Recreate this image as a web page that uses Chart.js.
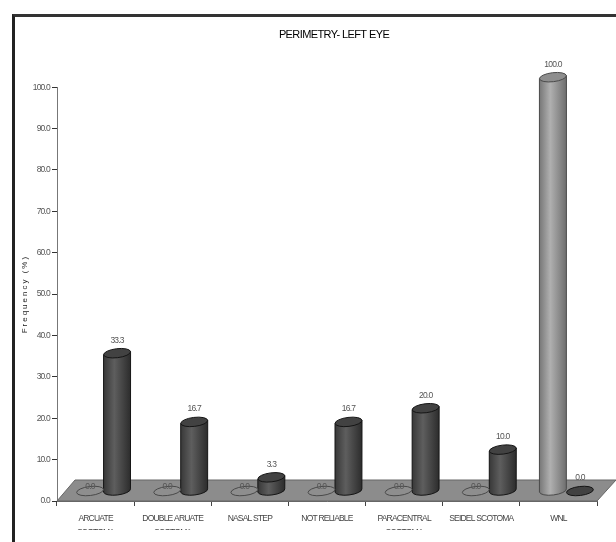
<!DOCTYPE html>
<html>
<head>
<meta charset="utf-8">
<title>Perimetry - left eye</title>
<script src="https://cdn.jsdelivr.net/npm/chart.js@4"></script>
<style>
  html, body { margin: 0; padding: 0; background: #fff; }
  #frame { position: absolute; left: 12px; top: 14px; width: 604px; height: 528px; box-sizing: border-box; border-left: 3px solid #222; border-top: 3px solid #333; }
  #chart { position: absolute; left: 0; top: 0; }
</style>
</head>
<body>
<div id="frame"></div>
<canvas id="chart" width="616" height="530"></canvas>
<script>
const categories = [
  ['ARCUATE', 'SCOTOMA'],
  ['DOUBLE ARUATE', 'SCOTOMA'],
  'NASAL STEP',
  'NOT RELIABLE',
  ['PARACENTRAL', 'SCOTOMA'],
  'SEIDEL SCOTOMA',
  'WNL'
];
const greyValues = [0, 0, 0, 0, 0, 0, 100];
const darkValues = [33.3, 16.7, 3.3, 16.7, 20, 10, 0];

const FONT = '"Liberation Sans", sans-serif';
const DEPTH_X = 8, DEPTH_Y = 10;
const TIGHT = '-0.8px';

const palettes = [
  { edge: '#4a4a4a', stops: ['#777777', '#b0b0b0', '#6e6e6e'], top: '#8e8e8e' },
  { edge: '#151515', stops: ['#383838', '#5e5e5e', '#2c2c2c'], top: '#424242' }
];

function cylinder(ctx, x, top, bottom, w, pal) {
  const left = x - w / 2, right = x + w / 2, ry = 4.5, tilt = -0.12;
  const rise = Math.sin(-tilt) * w / 2;
  ctx.lineWidth = 1;
  ctx.strokeStyle = pal.edge;
  if (bottom - top > 0.5) {
    const g = ctx.createLinearGradient(left, 0, right, 0);
    g.addColorStop(0, pal.stops[0]);
    g.addColorStop(0.4, pal.stops[1]);
    g.addColorStop(1, pal.stops[2]);
    ctx.beginPath();
    ctx.moveTo(left, top + rise);
    ctx.lineTo(left, bottom + rise);
    ctx.ellipse(x, bottom, w / 2, ry, tilt, Math.PI, 0, true);
    ctx.lineTo(right, top - rise);
    ctx.closePath();
    ctx.fillStyle = g;
    ctx.fill();
    ctx.stroke();
  }
  ctx.beginPath();
  ctx.ellipse(x, top, w / 2, ry, tilt, 0, Math.PI * 2);
  ctx.fillStyle = pal.top;
  ctx.fill();
  ctx.stroke();
}

// run a chart element's draw step with its own letter spacing
function spaced(chart, owner, method, spacing) {
  const original = owner[method];
  owner[method] = function (...args) {
    chart.ctx.save();
    chart.ctx.letterSpacing = spacing;
    original.apply(owner, args);
    chart.ctx.restore();
  };
}

const floorPlugin = {
  id: 'floor',
  beforeDatasetsDraw(chart) {
    const { ctx, scales: { x, y } } = chart;
    const y0 = y.getPixelForValue(0);
    ctx.save();
    ctx.beginPath();
    ctx.moveTo(x.left, y0);
    ctx.lineTo(x.left + 18, y0 - 21);
    ctx.lineTo(x.right + 19, y0 - 21);
    ctx.lineTo(x.right, y0);
    ctx.closePath();
    ctx.fillStyle = '#8c8c8c';
    ctx.fill();
    ctx.strokeStyle = '#666';
    ctx.lineWidth = 1;
    ctx.stroke();
    ctx.restore();
  }
};

// bars come out as cylinders standing on the floor, pushed back by the depth offset
const cylinderPlugin = {
  id: 'cylinders',
  beforeDatasetDraw(chart, args) {
    const ctx = chart.ctx;
    ctx.save();
    args.meta.data.forEach(bar => {
      const p = bar.getProps(['x', 'y', 'base', 'width'], true);
      cylinder(ctx, p.x + DEPTH_X, p.y - DEPTH_Y, p.base - DEPTH_Y, p.width, palettes[args.index]);
    });
    ctx.restore();
    return false;
  },
  afterDatasetsDraw(chart) {
    const ctx = chart.ctx;
    ctx.save();
    ctx.font = '8.5px ' + FONT;
    ctx.letterSpacing = TIGHT;
    ctx.fillStyle = '#555';
    ctx.textAlign = 'center';
    ctx.textBaseline = 'middle';
    chart.data.datasets.forEach((ds, i) => {
      chart.getDatasetMeta(i).data.forEach((bar, j) => {
        const v = ds.data[j];
        // the flat grey discs carry their label nearly on top of them
        const lift = (i === 0 && v === 0) ? 4 : 13;
        ctx.fillText(v.toFixed(1), bar.x + DEPTH_X, bar.y - DEPTH_Y - lift);
      });
    });
    ctx.restore();
  },
  afterLayout(chart) {
    // heading sits to the right of the plot centre
    chart.titleBlock.left = 52;
    chart.titleBlock.right = 616;
    if (chart.$spacingDone) return;
    chart.$spacingDone = true;
    spaced(chart, chart.titleBlock, 'draw', '-0.6px');
    spaced(chart, chart.scales.x, 'drawLabels', TIGHT);
    spaced(chart, chart.scales.y, 'drawLabels', TIGHT);
    spaced(chart, chart.scales.y, 'drawTitle', '2px');
  }
};

new Chart(document.getElementById('chart'), {
  type: 'bar',
  data: {
    labels: categories,
    datasets: [
      { label: 'Grey', data: greyValues, backgroundColor: '#8e8e8e' },
      { label: 'Dark', data: darkValues, backgroundColor: '#424242' }
    ]
  },
  plugins: [floorPlugin, cylinderPlugin],
  options: {
    responsive: false,
    animation: false,
    categoryPercentage: 0.7,
    barPercentage: 1,
    layout: { padding: { left: 0, right: 19, top: 0, bottom: 0 } },
    plugins: {
      legend: { display: false },
      tooltip: { enabled: false },
      title: {
        display: true,
        text: 'PERIMETRY- LEFT EYE',
        color: '#000',
        font: { family: 'Liberation Sans', size: 11, weight: 'normal' },
        padding: { top: 28, bottom: 46 }
      }
    },
    scales: {
      x: {
        afterFit: s => { s.height = 29; },
        border: { color: '#666' },
        grid: { drawOnChartArea: false, drawTicks: true, tickLength: 5, color: '#444' },
        ticks: { color: '#444', maxRotation: 0, autoSkip: false, padding: 6, font: { family: FONT, size: 8.5, lineHeight: 1.6 } }
      },
      y: {
        min: 0,
        max: 100,
        afterFit: s => { s.width = 57; },
        border: { color: '#777' },
        grid: { drawOnChartArea: false, drawTicks: true, tickLength: 5, color: '#333' },
        ticks: { stepSize: 10, color: '#555', padding: 2, callback: v => v.toFixed(1), font: { family: FONT, size: 8.5 } },
        title: { display: true, text: 'Frequency (%)', color: '#222', padding: { top: 20, bottom: 0 }, font: { family: FONT, size: 8 } }
      }
    }
  }
});
</script>
</body>
</html>
